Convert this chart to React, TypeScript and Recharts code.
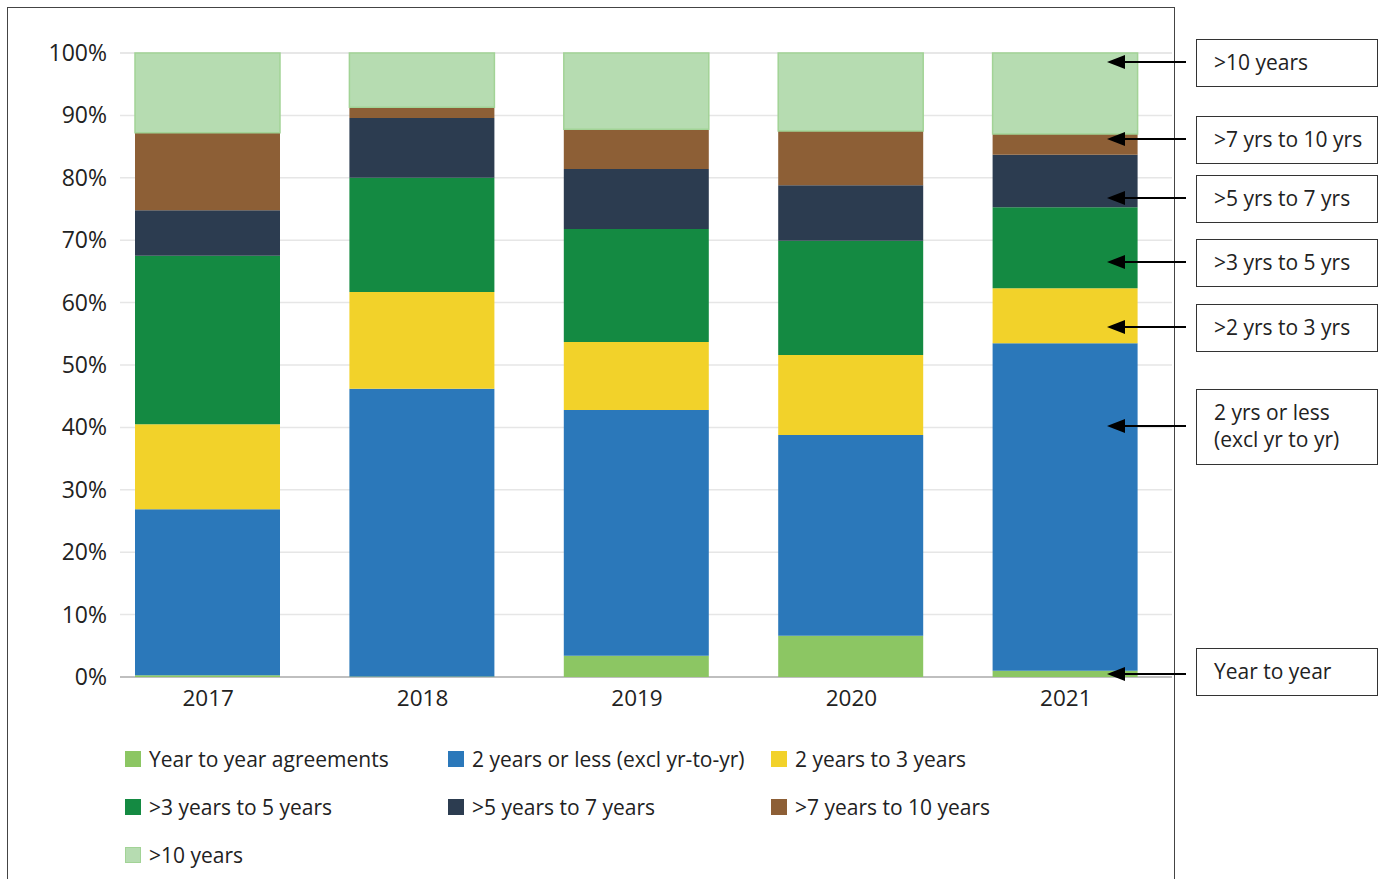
import React from 'react';
import { BarChart, Bar, XAxis, YAxis, CartesianGrid } from 'recharts';

const years = ['2017', '2018', '2019', '2020', '2021'];
const yearToYear = [0.3, 0.1, 3.4, 6.6, 1.0];
const twoOrLess = [26.6, 46.1, 39.4, 32.2, 52.5];
const twoToThree = [13.6, 15.5, 10.9, 12.8, 8.8];
const threeToFive = [27.0, 18.3, 18.1, 18.3, 13.0];
const fiveToSeven = [7.3, 9.6, 9.6, 8.9, 8.4];
const sevenToTen = [12.4, 1.7, 6.4, 8.7, 3.3];
const overTen = [12.8, 8.7, 12.2, 12.5, 13.0];
const yTicks = [0, 10, 20, 30, 40, 50, 60, 70, 80, 90, 100];

const seriesNames = [
  'Year to year agreements',
  '2 years or less (excl yr-to-yr)',
  '2 years to 3 years',
  '>3 years to 5 years',
  '>5 years to 7 years',
  '>7 years to 10 years',
  '>10 years',
];
const seriesValues = [yearToYear, twoOrLess, twoToThree, threeToFive, fiveToSeven, sevenToTen, overTen];
const seriesColors = ['#8cc663', '#2b78ba', '#f2d22a', '#148a42', '#2c3c50', '#8d5f36', '#b6dcb1'];
const seriesKeys = ['yty', 'le2', 'y2to3', 'y3to5', 'y5to7', 'y7to10', 'gt10'];

const annotationLabels = [
  ['>10 years'],
  ['>7 yrs to 10 yrs'],
  ['>5 yrs to 7 yrs'],
  ['>3 yrs to 5 yrs'],
  ['>2 yrs to 3 yrs'],
  ['2 yrs or less', '(excl yr to yr)'],
  ['Year to year'],
];

const data = years.map((year, i) => {
  const row: Record<string, string | number> = { year };
  seriesKeys.forEach((k, s) => {
    row[k] = seriesValues[s][i];
  });
  return row;
});

// layout constants (page pixels)
const FONT = '"Open Sans", sans-serif';
const TXT = 21;
const annBoxes = [
  { top: 39, height: 48 },
  { top: 116, height: 48 },
  { top: 175, height: 48 },
  { top: 239, height: 48 },
  { top: 304, height: 48 },
  { top: 389, height: 76 },
  { top: 648, height: 48 },
];

const YTick = (props: any) => {
  const { x, y, payload } = props;
  return (
    <text x={x + 15} y={y} dy={8} textAnchor="end" fontSize={23} fill="#222" fontFamily={FONT}>
      {payload.value}%
    </text>
  );
};

const XTick = (props: any) => {
  const { x, y, payload } = props;
  return (
    <text x={x + 1} y={y} dy={21} textAnchor="middle" fontSize={22.5} fill="#222" fontFamily={FONT}>
      {payload.value}
    </text>
  );
};

const GridLine = (props: any) => {
  const { x1, x2, y1, y2 } = props;
  const isBase = Math.abs(y1 - 677) < 1;
  return (
    <line
      x1={x1 + 20}
      x2={x2}
      y1={y1}
      y2={y2}
      stroke={isBase ? '#bfbfbf' : '#e6e6e6'}
      strokeWidth={isBase ? 2 : 1.5}
    />
  );
};

export default function App() {
  return (
    <div
      style={{
        position: 'fixed',
        left: 0,
        top: 0,
        width: 1387,
        height: 879,
        overflow: 'hidden',
        background: '#fff',
        fontFamily: FONT,
      }}
    >
      <div
        style={{
          position: 'absolute',
          left: 7,
          top: 7,
          width: 1166,
          height: 900,
          border: '1.5px solid #444',
        }}
      />
      <div style={{ position: 'absolute', left: 0, top: 0 }}>
        <BarChart
          width={1175}
          height={879}
          data={data}
          margin={{ top: 53, right: 3, left: 0, bottom: 172 }}
          barSize={145}
        >
          <CartesianGrid vertical={false} horizontal={(p: any) => <GridLine {...p} />} />
          <XAxis dataKey="year" axisLine={false} tickLine={false} tick={<XTick />} height={30} />
          <YAxis
            domain={[0, 100]}
            ticks={yTicks}
            axisLine={false}
            tickLine={false}
            tick={<YTick />}
            width={100}
            interval={0}
          />
          {seriesKeys.map((k, s) => (
            <Bar
              key={k}
              dataKey={k}
              name={seriesNames[s]}
              stackId="a"
              fill={seriesColors[s]}
              stroke={k === 'gt10' ? '#a2d396' : undefined}
              strokeWidth={k === 'gt10' ? 1.5 : 0}
              isAnimationActive={false}
            />
          ))}
        </BarChart>
      </div>

      {/* legend */}
      {seriesNames.map((name, s) => {
        const col = s % 3;
        const row = Math.floor(s / 3);
        const left = [125, 448, 771][col];
        const cy = 760 + row * 48;
        return (
          <div
            key={name}
            style={{
              position: 'absolute',
              left,
              top: cy - 15,
              height: 28,
              display: 'flex',
              alignItems: 'center',
              whiteSpace: 'nowrap',
            }}
          >
            <span
              style={{
                display: 'inline-block',
                width: 16,
                height: 16,
                background: seriesColors[s],
                marginRight: 8,
                boxSizing: 'border-box',
                border: s === 6 ? '1px solid #a2d396' : 'none',
              }}
            />
            <span style={{ fontSize: TXT, color: '#222' }}>{name}</span>
          </div>
        );
      })}

      {/* annotation boxes */}
      {annBoxes.map((b, i) => (
        <div
          key={i}
          style={{
            position: 'absolute',
            left: 1196,
            top: b.top,
            width: 182,
            height: b.height,
            boxSizing: 'border-box',
            border: '1.5px solid #333',
            paddingLeft: 17,
            display: 'flex',
            flexDirection: 'column',
            justifyContent: 'center',
            fontSize: TXT,
            lineHeight: '29px',
            color: '#222',
          }}
        >
          {annotationLabels[i].map((t) => (
            <div key={t} style={{ whiteSpace: 'nowrap', marginTop: -2 }}>{t}</div>
          ))}
        </div>
      ))}

      <svg
        width={1387}
        height={879}
        style={{ position: 'absolute', left: 0, top: 0, pointerEvents: 'none' }}
      >
        {annBoxes.map((b, i) => {
          const cy = i === 6 ? 674 : b.top + b.height / 2 - 1;
          return (
            <g key={i}>
              <line x1={1186} x2={1120} y1={cy} y2={cy} stroke="#000" strokeWidth={2} />
              <polygon points={`1107,${cy} 1125,${cy - 7} 1125,${cy + 7}`} fill="#000" />
            </g>
          );
        })}
      </svg>
    </div>
  );
}
